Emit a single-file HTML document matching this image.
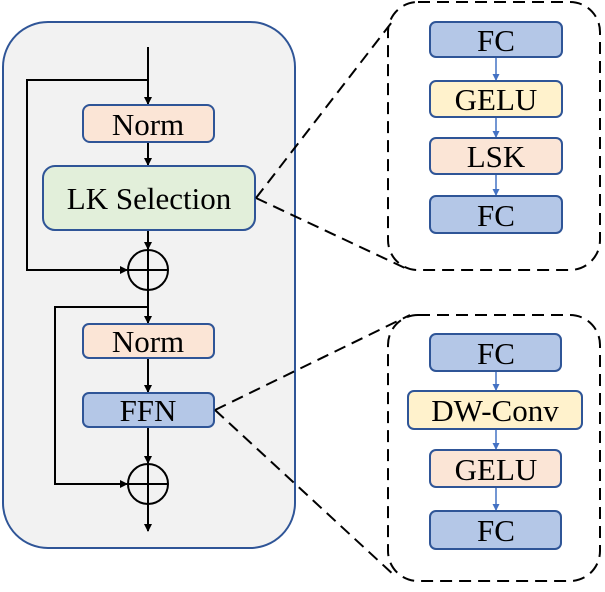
<!DOCTYPE html>
<html><head><style>body{margin:0;background:#fff}</style></head><body>
<svg width="605" height="587" xmlns="http://www.w3.org/2000/svg" font-family="Liberation Serif, serif">
<defs>
<marker id="a" markerWidth="8" markerHeight="8" refX="7" refY="4" orient="auto" markerUnits="userSpaceOnUse"><path d="M0,0 L8,4 L0,8z" fill="#000"/></marker>
<marker id="b" markerWidth="7" markerHeight="7" refX="6" refY="3.5" orient="auto" markerUnits="userSpaceOnUse"><path d="M0,0 L7,3.5 L0,7z" fill="#4472c4"/></marker>
</defs>
<rect x="3" y="22" width="292" height="526" rx="45" fill="#f2f2f2" stroke="#2f5597" stroke-width="2"/>
<g stroke="#000" stroke-width="2" fill="none">
<line x1="148" y1="47" x2="148" y2="104" marker-end="url(#a)"/>
<polyline points="148,80 27,80 27,270 127,270" marker-end="url(#a)"/>
<line x1="148" y1="142" x2="148" y2="165" marker-end="url(#a)"/>
<line x1="148" y1="230" x2="148" y2="249" marker-end="url(#a)"/>
<circle cx="148" cy="270" r="20"/>
<line x1="128" y1="270" x2="168" y2="270"/><line x1="148" y1="250" x2="148" y2="290"/>
<line x1="148" y1="290" x2="148" y2="323" marker-end="url(#a)"/>
<polyline points="148,307 55,307 55,484 127,484" marker-end="url(#a)"/>
<line x1="148" y1="358" x2="148" y2="392" marker-end="url(#a)"/>
<line x1="148" y1="427" x2="148" y2="463" marker-end="url(#a)"/>
<circle cx="148" cy="484" r="20"/>
<line x1="128" y1="484" x2="168" y2="484"/><line x1="148" y1="464" x2="148" y2="504"/>
<line x1="148" y1="504" x2="148" y2="531" marker-end="url(#a)"/>
</g>
<g stroke="#2f5597" stroke-width="2">
<rect x="83" y="105" width="131" height="37" rx="7" fill="#fbe5d6"/>
<rect x="43" y="166" width="212" height="64" rx="12" fill="#e2efda"/>
<rect x="83" y="324" width="131" height="34" rx="6" fill="#fbe5d6"/>
<rect x="83" y="393" width="131" height="34" rx="6" fill="#b4c7e7"/>
</g>
<g font-size="31" text-anchor="middle" fill="#000">
<text x="148" y="135">Norm</text>
<text x="149" y="209">LK Selection</text>
<text x="148" y="352">Norm</text>
<text x="148" y="421">FFN</text>
</g>
<g stroke="#000" stroke-width="2" stroke-dasharray="12,7" fill="none">
<rect x="388" y="2" width="212" height="268" rx="30"/>
<rect x="388" y="315" width="212" height="266" rx="30"/>
<line x1="256" y1="198" x2="392" y2="22"/>
<line x1="256" y1="198" x2="405" y2="268"/>
<line x1="215" y1="410" x2="410" y2="315"/>
<line x1="215" y1="410" x2="395" y2="576"/>
</g>
<g stroke="#4472c4" stroke-width="1.5">
<line x1="496" y1="57" x2="496" y2="80" marker-end="url(#b)"/>
<line x1="496" y1="117" x2="496" y2="137" marker-end="url(#b)"/>
<line x1="496" y1="174" x2="496" y2="195" marker-end="url(#b)"/>
<line x1="496" y1="371" x2="496" y2="390" marker-end="url(#b)"/>
<line x1="496" y1="429" x2="496" y2="449" marker-end="url(#b)"/>
<line x1="496" y1="487" x2="496" y2="510" marker-end="url(#b)"/>
</g>
<g stroke="#2f5597" stroke-width="2">
<rect x="430" y="22" width="132" height="35" rx="6" fill="#b4c7e7"/>
<rect x="430" y="81" width="132" height="36" rx="6" fill="#fff2cc"/>
<rect x="430" y="138" width="132" height="36" rx="6" fill="#fbe5d6"/>
<rect x="430" y="196" width="132" height="37" rx="6" fill="#b4c7e7"/>
<rect x="430" y="334" width="131" height="37" rx="6" fill="#b4c7e7"/>
<rect x="408" y="391" width="174" height="38" rx="6" fill="#fff2cc"/>
<rect x="430" y="450" width="131" height="37" rx="6" fill="#fbe5d6"/>
<rect x="430" y="511" width="131" height="38" rx="6" fill="#b4c7e7"/>
</g>
<g font-size="31" text-anchor="middle" fill="#000">
<text x="496" y="51">FC</text>
<text x="496" y="110">GELU</text>
<text x="496" y="167">LSK</text>
<text x="496" y="226">FC</text>
<text x="496" y="364">FC</text>
<text x="495" y="421">DW-Conv</text>
<text x="496" y="480">GELU</text>
<text x="496" y="541">FC</text>
</g>
</svg>
</body></html>
